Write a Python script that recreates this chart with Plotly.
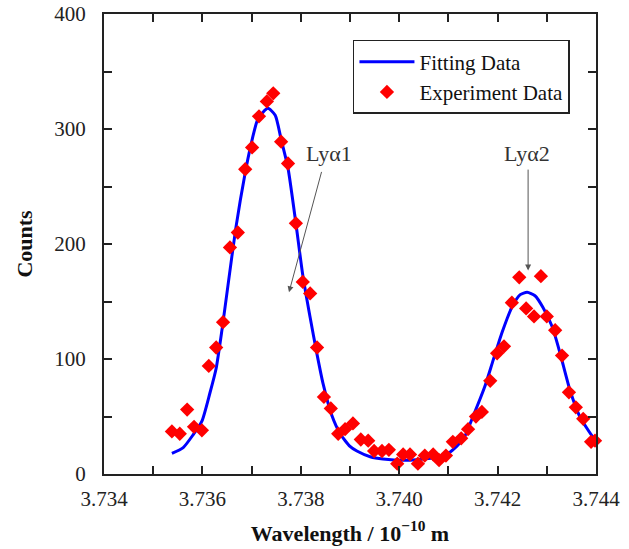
import plotly.graph_objects as go

# Experimental data (wavelength in 1e-10 m, counts)
exp_wavelength = [3.73538, 3.73554, 3.73569, 3.73583, 3.73599, 3.73613, 3.73628, 3.73642,
                  3.73656, 3.73672, 3.73687, 3.73701, 3.73715, 3.73731, 3.73744, 3.73760,
                  3.73774, 3.73790, 3.73804, 3.73819, 3.73833, 3.73847, 3.73861, 3.73876,
                  3.73890, 3.73906, 3.73922, 3.73937, 3.73949, 3.73965, 3.73979, 3.73996,
                  3.74008, 3.74022, 3.74038, 3.74052, 3.74069, 3.74081, 3.74095, 3.74109,
                  3.74126, 3.74140, 3.74156, 3.74168, 3.74185, 3.74199, 3.74213, 3.74229,
                  3.74244, 3.74258, 3.74274, 3.74288, 3.74300, 3.74317, 3.74331, 3.74345,
                  3.74359, 3.74374, 3.74390, 3.74398]
exp_counts = [37, 35, 56, 41, 38, 94, 110, 132,
              197, 210, 265, 284, 311, 324, 331, 289,
              270, 218, 167, 157, 110, 67, 57, 35,
              39, 44, 30, 29, 20, 20, 21, 9,
              17, 17, 9, 16, 17, 12, 16, 28,
              31, 39, 50, 54, 81, 105, 111, 149,
              171, 144, 137, 172, 137, 125, 103, 71,
              58, 48, 28, 29]

# Fitted curve
fit_wavelength = [3.73538, 3.73561, 3.73581, 3.73599, 3.73615, 3.73628, 3.73640, 3.73652,
                  3.73668, 3.73687, 3.73697, 3.73713, 3.73733, 3.73748, 3.73760, 3.73774,
                  3.73790, 3.73804, 3.73819, 3.73833, 3.73845, 3.73863, 3.73880, 3.73900,
                  3.73914, 3.73941, 3.73967, 3.74022, 3.74083, 3.74103, 3.74130, 3.74150,
                  3.74174, 3.74191, 3.74209, 3.74229, 3.74246, 3.74260, 3.74276, 3.74292,
                  3.74311, 3.74327, 3.74347, 3.74367, 3.74394, 3.74400]
fit_counts = [18, 23, 34, 46, 70, 92, 126, 164,
              214, 262, 283, 309, 318, 312, 291, 266,
              218, 173, 136, 104, 79, 51, 35, 24,
              20, 15, 13, 12, 15, 19, 30, 50,
              76, 99, 123, 145, 156, 158, 155, 145,
              128, 105, 73, 50, 32, 30]

x_ticks = [3.734, 3.736, 3.738, 3.740, 3.742, 3.744]
x_tick_labels = ["3.734", "3.736", "3.738", "3.740", "3.742", "3.744"]
y_ticks = [0, 100, 200, 300, 400]

serif = "Liberation Serif, Times New Roman, serif"
ink = "#222222"

fig = go.Figure()
fig.add_trace(go.Scatter(x=fit_wavelength, y=fit_counts, mode="lines",
                         name="Fitting Data",
                         line=dict(color="#0000ff", width=3, shape="spline", smoothing=0.6)))
fig.add_trace(go.Scatter(x=exp_wavelength, y=exp_counts, mode="markers",
                         name="Experiment Data", cliponaxis=False,
                         marker=dict(symbol="diamond", color="#ff0000", size=11, line=dict(width=0))))

axis_common = dict(showline=True, linecolor=ink, linewidth=2, mirror="ticks",
                   ticks="inside", ticklen=8, tickwidth=1.5, tickcolor=ink,
                   showgrid=False, zeroline=False, automargin=False,
                   tickfont=dict(family=serif, size=21, color=ink))

fig.update_xaxes(range=[3.734, 3.744], tickvals=x_ticks, ticktext=x_tick_labels,
                 ticklabelstandoff=5,
                 minor=dict(dtick=0.001, tick0=3.734, ticks="inside", ticklen=8, tickwidth=1.5, tickcolor=ink),
                 title=dict(text="<b>Wavelength / 10<sup>−10</sup> m</b>",
                            font=dict(family=serif, size=22, color="#111111"), standoff=15),
                 **axis_common)
fig.update_yaxes(range=[0, 400], tickvals=y_ticks,
                 ticklabelstandoff=12,
                 minor=dict(dtick=50, tick0=0, ticks="inside", ticklen=8, tickwidth=1.5, tickcolor=ink),
                 title=dict(text="<b>Counts</b>", font=dict(family=serif, size=22, color="#111111"), standoff=16),
                 **axis_common)

# Annotations
fig.add_annotation(x=3.73776, y=158, ax=3.73843, ay=264, axref="x", ayref="y", xref="x", yref="y",
                   text="", showarrow=True, arrowhead=2, arrowsize=1.2, arrowwidth=1, arrowcolor="#555555")
fig.add_annotation(x=3.73858, y=279, xref="x", yref="y", text="Lyα1", showarrow=False,
                   font=dict(family=serif, size=22, color="#333333"))
fig.add_annotation(x=3.74262, y=177, ax=3.74262, ay=266, axref="x", ayref="y", xref="x", yref="y",
                   text="", showarrow=True, arrowhead=2, arrowsize=1.2, arrowwidth=1, arrowcolor="#555555")
fig.add_annotation(x=3.74260, y=279, xref="x", yref="y", text="Lyα2", showarrow=False,
                   font=dict(family=serif, size=22, color="#333333"))

fig.update_layout(
    width=629, height=549,
    margin=dict(l=104, r=33, t=14, b=75, autoexpand=False),
    paper_bgcolor="white", plot_bgcolor="white",
    showlegend=True,
    legend=dict(x=0.506, y=0.9435, xanchor="left", yanchor="top",
                bordercolor=ink, borderwidth=1.5, bgcolor="white",
                font=dict(family=serif, size=21, color="#111111"),
                tracegroupgap=0, itemwidth=55),
)

fig.write_html("out.html")
